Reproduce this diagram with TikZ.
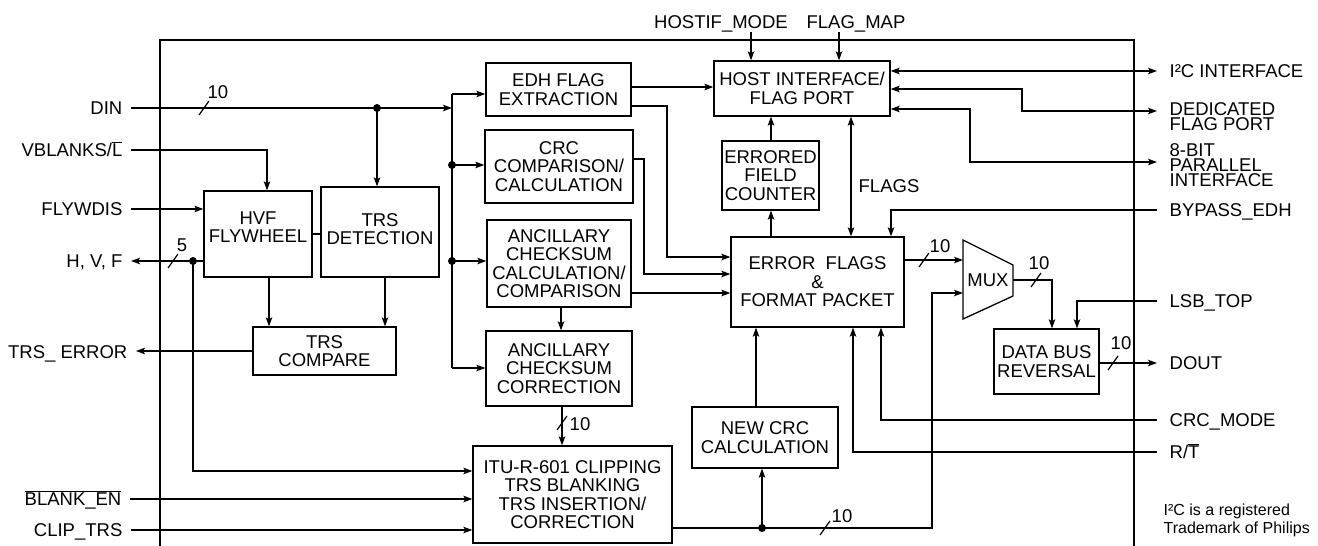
\documentclass[tikz,border=0pt]{standalone}
\usepackage{fontspec}
\setmainfont{Liberation Sans}
\usetikzlibrary{arrows.meta,calc}
\newcommand{\ovl}[1]{$\overline{\mbox{#1}}$}
\begin{document}
\begin{tikzpicture}[x=1pt,y=-1pt,
  line width=1.3pt,
  >={Stealth[length=9pt,width=6.5pt,inset=2pt]},
  every node/.style={font=\fontsize{18.5}{18.5}\selectfont},
  blk/.style={draw, line width=1.3pt, inner sep=0pt, align=center},
  txt/.style={inner sep=0pt, align=center},
  lsig/.style={anchor=east, inner xsep=8pt, inner ysep=0pt, text height=13.2pt, text depth=0pt},
  rsig/.style={anchor=west, inner xsep=12pt, inner ysep=0pt, text height=13.2pt, text depth=0pt},
  rml/.style={anchor=north west, inner xsep=12pt, inner ysep=0pt, align=left, font=\fontsize{18.5}{15}\selectfont},
  tsig/.style={inner sep=0pt, text height=13.2pt, text depth=0pt},
  dot/.style={circle, fill, inner sep=0pt, minimum size=8pt},
  tick/.style={line width=1.2pt},
  busnum/.style={inner sep=0pt, text height=13.2pt, text depth=0pt}
]
\useasboundingbox (0,0) rectangle (1318,546);
% chip frame
\draw (160,546) -- (160,40) -- (1134,40) -- (1134,546);

% blocks
\node[blk, minimum width=108pt, minimum height=86pt] (hvf) at (258,234) {};
\node[txt] (hvftxt) at (258,227) {HVF\\FLYWHEEL};
\node[blk, minimum width=118pt, minimum height=90pt] (trsd) at (380,232) {};
\node[txt] (trsdtxt) at (380,229) {TRS\\DETECTION};
\node[blk, minimum width=143pt, minimum height=48pt] (trsc) at (324.5,351) {TRS\\COMPARE};
\node[blk, minimum width=145pt, minimum height=53pt] (edh) at (558.5,89.5) {EDH FLAG\\EXTRACTION};
\node[blk, minimum width=148pt, minimum height=73pt] (crc) at (559,166.5) {CRC\\COMPARISON/\\CALCULATION};
\node[blk, minimum width=144pt, minimum height=87pt] (ancc) at (559,263.5) {ANCILLARY\\CHECKSUM\\CALCULATION/\\COMPARISON};
\node[blk, minimum width=146pt, minimum height=75pt] (ancr) at (559,368.5) {ANCILLARY\\CHECKSUM\\CORRECTION};
\node[blk, minimum width=199pt, minimum height=97pt] (itu) at (572.5,494.5) {ITU-R-601 CLIPPING\\TRS BLANKING\\TRS INSERTION/\\CORRECTION};
\node[blk, minimum width=146pt, minimum height=61pt] (newcrc) at (765,437.5) {NEW CRC\\CALCULATION};
\node[blk, minimum width=176pt, minimum height=55pt] (host) at (802,88.5) {HOST INTERFACE/\\FLAG PORT};
\node[blk, minimum width=97pt, minimum height=69pt] (efc) at (770.5,175.5) {ERRORED\\FIELD\\COUNTER};
\node[blk, minimum width=173pt, minimum height=90pt] (err) at (817.5,282) {ERROR\ \ FLAGS\\\&\\FORMAT PACKET};
\node[blk, minimum width=105pt, minimum height=65pt] (dbr) at (1046.5,361.5) {DATA BUS\\REVERSAL};
% MUX
\coordinate (m1) at (963,240); \coordinate (m2) at (1013,265);
\coordinate (m3) at (1013,296); \coordinate (m4) at (963,319);
\draw (m1) -- (m2) -- (m3) -- (m4) -- cycle;
\node[txt] (mux) at (988,280) {MUX};

% left signals
\node[lsig] (din) at (131,108) {DIN};
\node[lsig] (vbl) at (131,150) {VBLANKS/\ovl{L}};
\node[lsig] (fly) at (131,209) {FLYWDIS};
\node[lsig] (hvfo) at (131,261) {H, V, F};
\node[lsig] (trse) at (136,352) {TRS\_ ERROR};
\node[lsig] (blen) at (130,499) {\ovl{BLANK\_EN}};
\node[lsig] (clip) at (131,530) {CLIP\_TRS};
% top signals
\node[tsig] (hm) at (721,22) {HOSTIF\_MODE};
\node[tsig] (fm) at (856,22) {FLAG\_MAP};
% right signals
\node[rsig] (i2c) at (1157,71) {I²C INTERFACE};
\node[rml] (ded) at (1157,102) {DEDICATED\\FLAG PORT};
\node[rml] (par) at (1157,143) {8-BIT\\PARALLEL\\INTERFACE};
\node[rsig] (byp) at (1157,210) {BYPASS\_EDH};
\node[rsig] (lsb) at (1157,301) {LSB\_TOP};
\node[rsig] (dout) at (1157,363) {DOUT};
\node[rsig] (crcm) at (1157,420) {CRC\_MODE};
\node[rsig] (rt) at (1157,452) {R/\ovl{T}};
\node[anchor=north west, inner sep=0pt, align=left, font=\fontsize{16}{18}\selectfont] (note) at (1163,503) {I²C is a registered\\Trademark of Philips};
\node[txt] (flags) at (889,186) {FLAGS};

% DIN and internal bus
\coordinate (dj) at (377,108);
\coordinate (busin) at (452,108);
\coordinate (b1) at (452,94); \coordinate (b2) at (452,165);
\coordinate (b3) at (452,261); \coordinate (b4) at (452,368);
\draw[->] (din.east) -- (busin);
\draw[->] (dj) -- (dj |- trsd.north);
\node[dot] (djd) at (dj) {};
\draw (b1) -- (b4);
\draw[->] (b1) -- (b1 -| edh.west);
\draw[->] (b2) -- (b2 -| crc.west);
\draw[->] (b3) -- (b3 -| ancc.west);
\draw[->] (b4) -- (b4 -| ancr.west);
\node[dot] (b2d) at (b2) {};
\node[dot] (b3d) at (b3) {};

% HVF / TRS
\coordinate (vb) at (267,150);
\draw[->] (vbl.east) -- (vb) -- (vb |- hvf.north);
\draw[->] (fly.east) -- (fly.east -| hvf.west);
\coordinate (hj) at (193,261); \coordinate (hk) at (193,471);
\draw[->] (hvf.west |- hj) -- (hvfo.east);
\draw[->] (hj) -- (hk) -- (hk -| itu.west);
\node[dot] (hjd) at (hj) {};
\draw (hvf.east) -- (hvf.east -| trsd.west);
\draw[->] (hvf.south -| 269,0) -- (trsc.north -| 269,0);
\draw[->] (trsd.south -| 385,0) -- (trsc.north -| 385,0);
\draw[->] (trsc.west) -- (trsc.west -| trse.east);
\draw[->] (blen.east) -- (blen.east -| itu.west);
\draw[->] (clip.east) -- (clip.east -| itu.west);

% ITU output
\coordinate (ij) at (762,528); \coordinate (ic) at (932,528); \coordinate (im) at (932,293);
\draw[->] (itu.east |- ij) -- (ic) -- (im) -- (im -| m1);
\draw[->] (ij) -- (ij |- newcrc.south);
\node[dot] (ijd) at (ij) {};
\draw[->] (newcrc.north -| 756,0) -- (err.south -| 756,0);

% flag extraction paths
\draw[->] (edh.east |- 0,87) -- (host.west |- 0,87);
\draw[->] (edh.east |- 0,106) -- (667,106) -- (667,257) -- (err.west |- 0,257);
\draw[->] (crc.east |- 0,159) -- (644,159) -- (644,274) -- (err.west |- 0,274);
\draw[->] (ancc.east |- 0,293) -- (err.west |- 0,293);
\draw[->] (ancc.south -| 561,0) -- (ancr.north -| 561,0);
\draw[->] (ancr.south -| 562,0) -- (itu.north -| 562,0);

% host side
\draw[->] (err.north -| 771,0) -- (efc.south -| 771,0);
\draw[->] (efc.north -| 771,0) -- (host.south -| 771,0);
\draw[<->] (host.south -| 851,0) -- (err.north -| 851,0);
\draw[->] (byp.west) -| (err.north -| 891,0);
\coordinate (hmA) at (751,32); \coordinate (fmA) at (839,32);
\draw[->] (hmA) -- (hmA |- host.north);
\draw[->] (fmA) -- (fmA |- host.north);
\draw[<->] (host.east |- i2c.west) -- (i2c.west);
\coordinate (dd1) at (1022,89); \coordinate (dd2) at (1022,111);
\draw[<->] (host.east |- dd1) -- (dd1) -- (dd2) -- (dd2 -| ded.west);
\coordinate (pp1) at (970,109); \coordinate (pp2) at (970,162);
\draw[<->] (host.east |- pp1) -- (pp1) -- (pp2) -- (pp2 -| par.west);

% output path
\draw[->] (err.east |- 0,260) -- (m1 |- 0,260);
\coordinate (mo) at (1052,280);
\draw[->] (m2 |- mo) -- (mo) -- (mo |- dbr.north);
\draw[->] (lsb.west) -| (dbr.north -| 1077,0);
\draw[->] (dbr.east |- dout.west) -- (dout.west);
\draw[->] (crcm.west) -| (err.south -| 881,0);
\draw[->] (rt.west) -| (err.south -| 853,0);

% bus width ticks
\foreach \p in {(204,108),(173,261),(562,423),(825,528),(924,260),(1036,280),(1113,363)}
  \draw[tick] \p ++(-5,7) -- ++(10,-14);
\node[busnum] (n1) at (218,92) {10};
\node[busnum] (n2) at (182,245) {5};
\node[busnum] (n3) at (580,424) {10};
\node[busnum] (n4) at (842,516) {10};
\node[busnum] (n5) at (940,246) {10};
\node[busnum] (n6) at (1039,263) {10};
\node[busnum] (n7) at (1121,343) {10};
\end{tikzpicture}
\end{document}
